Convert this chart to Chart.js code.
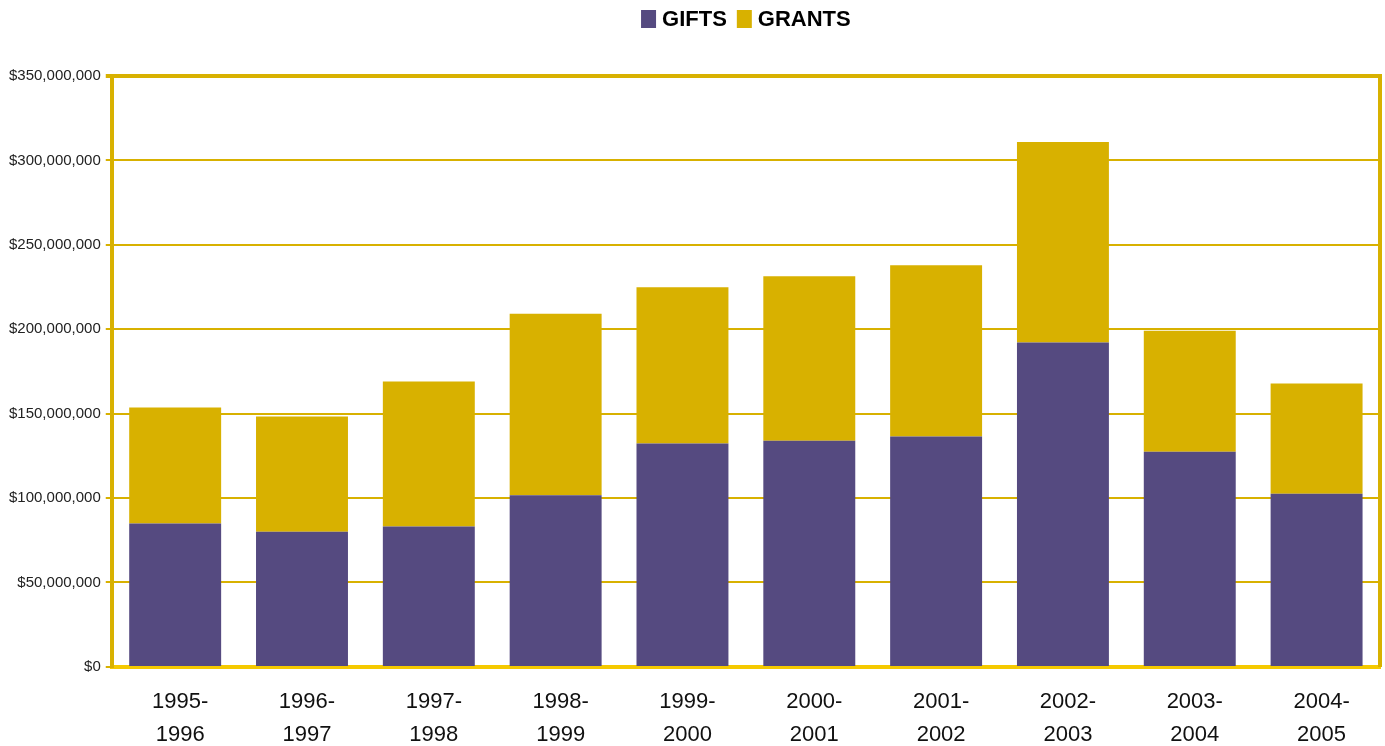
<!DOCTYPE html>
<html>
<head>
<meta charset="utf-8">
<title>Gifts and Grants</title>
<script src="https://cdn.jsdelivr.net/npm/chart.js@4.4.1/dist/chart.umd.min.js"></script>
<style>
    html, body { margin: 0; padding: 0; background: #fff; }
    #wrap { width: 1385px; height: 746px; position: relative; }
</style>
</head>
<body>
<div id="wrap"><canvas id="barChart"></canvas></div>
<script>
// данные (в миллионах долларов)
const years = [
    ['1995-', '1996'], ['1996-', '1997'], ['1997-', '1998'], ['1998-', '1999'], ['1999-', '2000'],
    ['2000-', '2001'], ['2001-', '2002'], ['2002-', '2003'], ['2003-', '2004'], ['2004-', '2005']
];
const gifts  = [85.0, 80.1, 83.1, 101.6, 132.3, 133.9, 136.4, 192.2, 127.5, 102.6];
const grants = [68.6, 68.2, 86.0, 107.6, 92.5, 97.5, 101.5, 118.7, 71.6, 65.3];
const yTicks = [0, 50, 100, 150, 200, 250, 300, 350];

const PURPLE = '#554a80';
const GOLD = '#d8b100';
const FONT = "'Liberation Sans', Arial, sans-serif";

// Утилита для подписи оси: $150,000,000
function money(v) {
    return '$' + Math.round(v * 1000000).toLocaleString('en-US');
}

// легенда по центру области графика, как в оригинале
const topLegend = {
    id: 'topLegend',
    afterDraw(chart) {
        const { ctx, chartArea } = chart;
        const items = chart.data.datasets.map(ds => ({ text: ds.label, color: ds.backgroundColor }));
        ctx.save();
        ctx.font = `bold 22px ${FONT}`;
        ctx.textBaseline = 'middle';
        const boxW = 15, boxH = 18, gap = 6, between = 10;
        const widths = items.map(it => boxW + gap + ctx.measureText(it.text).width);
        const total = widths.reduce((a, b) => a + b, 0) + between * (items.length - 1);
        let x = (chartArea.left + chartArea.right) / 2 - total / 2;
        const y = 19;
        items.forEach((it, i) => {
            ctx.fillStyle = it.color;
            ctx.fillRect(x, y - boxH / 2, boxW, boxH);
            ctx.fillStyle = '#000';
            ctx.fillText(it.text, x + boxW + gap, y + 1);
            x += widths[i] + between;
        });
        ctx.restore();
    }
};

new Chart(document.getElementById('barChart'), {
    type: 'bar',
    data: {
        labels: years,
        datasets: [
            { label: 'GIFTS', data: gifts, backgroundColor: PURPLE },
            { label: 'GRANTS', data: grants, backgroundColor: GOLD }
        ]
    },
    options: {
        responsive: true,
        maintainAspectRatio: false,
        animation: false,
        barPercentage: 0.725,
        categoryPercentage: 1,
        layout: { padding: { left: 4, right: 5, top: 76, bottom: -24 } },
        plugins: {
            tooltip: { enabled: false },
            legend: { display: false }
        },
        scales: {
            x: {
                stacked: true,
                grid: { display: false, drawTicks: false },
                border: { color: '#f5c900', width: 4 },
                ticks: {
                    color: '#111',
                    padding: 19,
                    labelOffset: 5,
                    font: { family: FONT, size: 22, lineHeight: 1.48 }
                }
            },
            y: {
                stacked: true,
                min: 0,
                max: 350,
                afterBuildTicks: axis => { axis.ticks = yTicks.map(v => ({ value: v })); },
                grid: {
                    color: GOLD,
                    lineWidth: ctx => (ctx.tick && ctx.tick.value === 350 ? 4 : 2),
                    tickLength: 6,
                    tickColor: GOLD
                },
                border: { color: GOLD, width: 4 },
                ticks: {
                    color: '#222',
                    padding: 5,
                    font: { family: FONT, size: 15 },
                    callback: v => money(v)
                }
            },
            y2: {
                position: 'right',
                grid: { display: false, drawTicks: false },
                ticks: { display: false },
                border: { color: GOLD, width: 4 }
            }
        }
    },
    plugins: [topLegend]
});
</script>
</body>
</html>
